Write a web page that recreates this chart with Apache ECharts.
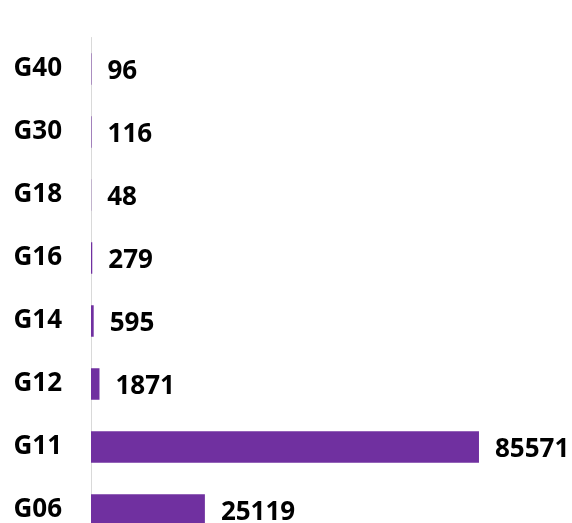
<!DOCTYPE html>
<html>
<head>
<meta charset="utf-8">
<script src="https://cdn.jsdelivr.net/npm/echarts@6/dist/echarts.min.js"></script>
<style>html,body{margin:0;padding:0;background:#fff;overflow:hidden}#c{width:572px;height:542px}</style>
</head>
<body>
<div id="c"></div>
<script>
const categories = ['G06', 'G11', 'G12', 'G14', 'G16', 'G18', 'G30', 'G40'];
const values = [25119, 85571, 1871, 595, 279, 48, 116, 96];

const chart = echarts.init(document.getElementById('c'), null, {renderer: 'canvas'});
chart.setOption({
  animation: false,
  grid: {left: 91, top: 37.5, height: 504, width: 453.4, containLabel: false},
  xAxis: {
    type: 'value', min: 0, max: 100000, show: false
  },
  yAxis: {
    type: 'category', data: categories,
    axisLine: {show: true, lineStyle: {color: '#d9d9d9', width: 1}},
    axisTick: {show: false},
    axisLabel: {color: '#000', fontFamily: 'Open Sans', fontWeight: 'bold', fontSize: 26, margin: 29}
  },
  series: [{
    type: 'bar', data: values, barWidth: '50%',
    itemStyle: {color: '#7030A0'},
    label: {show: true, position: 'right', distance: 16, offset: [0, 3], color: '#000', fontFamily: 'Open Sans', fontWeight: 'bold', fontSize: 26}
  }]
});
</script>
</body>
</html>
